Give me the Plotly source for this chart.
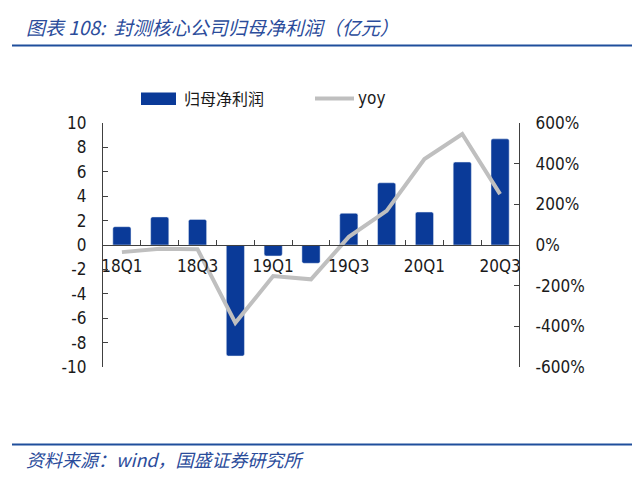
import plotly.graph_objects as go

# quarterly data
quarters = ["18Q1", "18Q2", "18Q3", "18Q4", "19Q1", "19Q2",
            "19Q3", "19Q4", "20Q1", "20Q2", "20Q3"]
net_profit = [1.5, 2.3, 2.1, -9.1, -0.9, -1.5, 2.6, 5.1, 2.7, 6.8, 8.7]  # 亿元
yoy = [-35, -18, -21, -383, -153, -169, 40, 168, 423, 546, 250]  # %

x_labels = [q if i % 2 == 0 else "" for i, q in enumerate(quarters)]
left_ticks = list(range(-10, 11, 2))
right_ticks = list(range(-600, 601, 200))

BLUE = "#0A3A98"
GREY = "#BFBFBF"
AXIS = "#404040"
TITLE_BLUE = "#2B4C9B"
TICK_FONT = dict(family="DejaVu Sans Condensed, DejaVu Sans", size=17, color="#1a1a1a")
CJK = "Noto Sans CJK SC"

# the page body adds 8px, so the figure is 8px smaller each way
PL, PT, PW, PH = 103, 123, 416, 244  # plot box in window pixels


def px(x):
    return (x - PL) / PW


def py(y):
    return 1 - (y - PT) / PH


fig = go.Figure()
fig.add_trace(go.Bar(x=quarters, y=net_profit, name="归母净利润",
                     marker=dict(color=BLUE, cornerradius=2), width=0.48))
fig.add_trace(go.Scatter(x=quarters, y=yoy, name="yoy", yaxis="y2", mode="lines",
                         line=dict(color=GREY, width=4)))

fig.update_layout(
    width=632, height=471,
    margin=dict(l=95, r=121, t=115, b=112),
    paper_bgcolor="white", plot_bgcolor="white",
    showlegend=False,
    xaxis=dict(
        anchor="free", position=0.5, automargin=False, tickangle=0,
        tickmode="array", tickvals=quarters, ticktext=x_labels,
        tickson="boundaries", ticks="inside", ticklen=5, tickcolor=AXIS,
        ticklabelstandoff=5,
        showline=True, linecolor=AXIS, linewidth=1.3,
        showgrid=False, zeroline=False, tickfont=TICK_FONT,
    ),
    yaxis=dict(
        range=[-10, 10], tickmode="array", tickvals=left_ticks,
        ticktext=[str(v) for v in left_ticks], automargin=False,
        ticks="inside", ticklen=5, tickcolor=AXIS, ticklabelstandoff=12,
        showline=True, linecolor=AXIS, linewidth=1.3,
        showgrid=False, zeroline=False, tickfont=TICK_FONT,
    ),
    yaxis2=dict(
        overlaying="y", side="right", automargin=False,
        range=[-600, 600], tickmode="array", tickvals=right_ticks,
        ticktext=[f"{v}%" for v in right_ticks],
        ticks="inside", ticklen=5, tickcolor=AXIS, ticklabelstandoff=12,
        showline=True, linecolor=AXIS, linewidth=1.3,
        showgrid=False, zeroline=False, tickfont=TICK_FONT,
    ),
)

# header, footer rules
for rule_y in (45.5, 444.5):
    fig.add_shape(type="line", xref="paper", yref="paper", x0=px(12), x1=px(640),
                  y0=py(rule_y), y1=py(rule_y),
                  line=dict(color="#1F4E9C", width=2.2))

fig.add_annotation(text="图表 108:  封测核心公司归母净利润（亿元）",
                   xref="paper", yref="paper", x=px(24), y=py(26),
                   xanchor="left", yanchor="middle", showarrow=False,
                   font=dict(family=CJK, size=19, color=TITLE_BLUE, style="italic"))
fig.add_annotation(text="资料来源：wind，国盛证券研究所",
                   xref="paper", yref="paper", x=px(24), y=py(459),
                   xanchor="left", yanchor="middle", showarrow=False,
                   font=dict(family=CJK, size=18, color=TITLE_BLUE, style="italic"))

# legend drawn by hand to match the wide swatch
fig.add_shape(type="rect", xref="paper", yref="paper",
              x0=px(141), x1=px(176), y0=py(105), y1=py(92.5),
              fillcolor=BLUE, line=dict(width=0))
fig.add_annotation(text="归母净利润", xref="paper", yref="paper",
                   x=px(182), y=py(98.5), xanchor="left", yanchor="middle",
                   showarrow=False, font=dict(family=CJK, size=16, color="#1a1a1a"))
fig.add_shape(type="line", xref="paper", yref="paper",
              x0=px(315), x1=px(354), y0=py(98.5), y1=py(98.5),
              line=dict(color=GREY, width=4))
fig.add_annotation(text="yoy", xref="paper", yref="paper",
                   x=px(356), y=py(98.5), xanchor="left", yanchor="middle",
                   showarrow=False, font=TICK_FONT)

fig.write_html("out.html")
